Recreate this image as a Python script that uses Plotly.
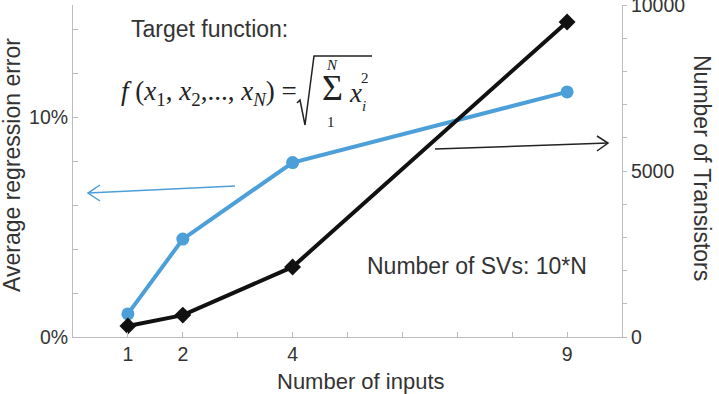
import plotly.graph_objects as go

# ---- data ----
n_inputs = [1, 2, 4, 9]
avg_error_pct = [1.05, 4.45, 7.93, 11.14]
n_transistors = [330, 660, 2110, 9490]

x_tickvals = [1, 2, 3, 4, 5, 6, 7, 8, 9]
x_ticktext = ["1", "2", "", "4", "", "", "", "", "9"]
y_tickvals = [0, 2, 4, 6, 8, 10, 12, 14]
y_ticktext = ["0%", "", "", "", "", "10%", "", ""]
y2_tickvals = list(range(0, 10001, 1000))
y2_ticktext = ["0", "", "", "", "", "5000", "", "", "", "", "10000"]

W, H = 719, 394
ML, MR, MT, MB = 73, 97, 5, 57
PW, PH = W - ML - MR, H - MT - MB

def px(x):
    return (x - ML) / PW

def py(y):
    return (H - MB - y) / PH

BLUE = "#4c9fd9"
BLACK = "#111111"
AXIS = "#bdbdbd"
TXT = "#333333"
SANS = "Liberation Sans, Arial, sans-serif"
SERIF = "Liberation Serif, Times New Roman, serif"

fig = go.Figure()
fig.add_trace(go.Scatter(
    x=n_inputs, y=avg_error_pct, mode="lines+markers",
    line=dict(color=BLUE, width=4),
    marker=dict(symbol="circle", size=13, color=BLUE),
    showlegend=False, yaxis="y"))
fig.add_trace(go.Scatter(
    x=n_inputs, y=n_transistors, mode="lines+markers",
    line=dict(color=BLACK, width=4),
    marker=dict(symbol="diamond", size=13, color=BLACK),
    showlegend=False, yaxis="y2"))

annotations = []
def txt(text, x, y, size, family=SANS, xanchor="center", angle=0, color=TXT):
    annotations.append(dict(text=text, x=px(x), y=py(y), xref="paper", yref="paper",
                            xanchor=xanchor, yanchor="middle", showarrow=False,
                            textangle=angle, font=dict(size=size, family=family, color=color)))

txt("Target function:", 209, 29, 23)
txt("<i>f</i> (<i>x</i><sub>1</sub>, <i>x</i><sub>2</sub>,..., <i>x</i><sub><i>N</i></sub>) =",
    119, 93, 27, family=SERIF, xanchor="left", color="#222")
txt("Σ", 332, 88, 36, family=SERIF, color="#222")
txt("<i>N</i>", 332, 65, 15, family=SERIF, color="#222")
txt("1", 331, 122, 15, family=SERIF, color="#222")
txt("<i>x</i>", 355, 93, 27, family=SERIF, color="#222")
txt("2", 365, 78, 15, family=SERIF, color="#222")
txt("<i>i</i>", 364, 106, 15, family=SERIF, color="#222")
txt("Number of SVs: 10*N", 477, 266, 23)
txt("Average regression error", 12, 165, 23, angle=-90)
txt("Number of Transistors", 702, 168, 23, angle=90)
txt("Number of inputs", 361, 381, 22)

def path(points):
    return "M " + " L ".join(f"{px(a):.5f},{py(b):.5f}" for a, b in points)

shapes = [
    # radical sign
    dict(type="path", xref="paper", yref="paper",
         path=path([(297, 103), (300, 100), (305, 125), (314, 56), (372, 56)]),
         line=dict(color="#222", width=1.5)),
    # blue arrow (to left axis)
    dict(type="path", xref="paper", yref="paper",
         path=path([(235, 186), (88, 193)]), line=dict(color=BLUE, width=1.5)),
    dict(type="path", xref="paper", yref="paper",
         path=path([(100, 185), (88, 193), (100, 201)]), line=dict(color=BLUE, width=1.5)),
    # black arrow (to right axis)
    dict(type="path", xref="paper", yref="paper",
         path=path([(435, 149), (608, 143)]), line=dict(color="#222", width=1.5)),
    dict(type="path", xref="paper", yref="paper",
         path=path([(597, 136), (608, 143), (597, 151)]), line=dict(color="#222", width=1.5)),
]

fig.update_layout(
    width=W, height=H,
    margin=dict(l=ML, r=MR, t=MT, b=MB, pad=0, autoexpand=False),
    paper_bgcolor="white", plot_bgcolor="white",
    font=dict(family=SANS, color=TXT, size=19),
    xaxis=dict(range=[0, 10], tickmode="array", tickvals=x_tickvals, ticktext=x_ticktext,
               ticks="inside", ticklen=5, tickcolor=AXIS, showline=True, linecolor=AXIS,
               linewidth=1, showgrid=False, zeroline=False, tickfont=dict(size=19.5),
               automargin=False),
    yaxis=dict(range=[0, PH / 22.0], tickmode="array", tickvals=y_tickvals, ticktext=y_ticktext,
               ticks="inside", ticklen=5, tickcolor=AXIS, showline=True, linecolor=AXIS,
               linewidth=1, showgrid=False, zeroline=False, tickfont=dict(size=19.5),
               automargin=False),
    yaxis2=dict(range=[0, 10000], overlaying="y", side="right", tickmode="array",
                tickvals=y2_tickvals, ticktext=y2_ticktext, ticks="outside", ticklen=4,
                tickcolor=AXIS, showline=True, linecolor=AXIS, linewidth=1,
                showgrid=False, zeroline=False, tickfont=dict(size=19.5),
                ticklabeloverflow="allow", automargin=False),
    annotations=annotations,
    shapes=shapes,
)

fig.write_html("out.html")
